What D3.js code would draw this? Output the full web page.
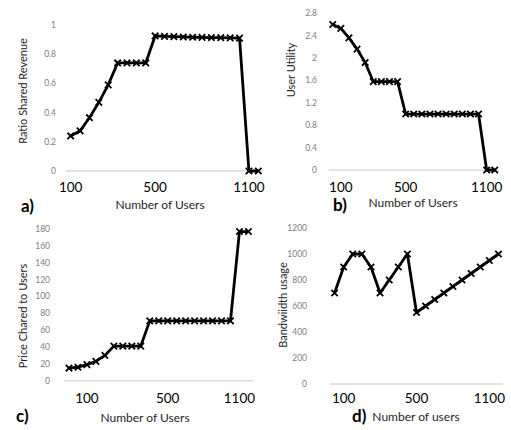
<!DOCTYPE html>
<html><head><meta charset="utf-8">
<script src="https://cdn.jsdelivr.net/npm/d3@7"></script>
<style>body{margin:0;background:#fff}svg{display:block}</style>
</head><body>
<svg id="c" width="511" height="430"></svg>
<script>
// ---- data ----
const catsABC = d3.range(21).map(i => "c" + i); // 21 user-count categories (a,b,c)
const catsD = d3.range(19).map(i => "d" + i);   // 19 categories (d)
const ratioShared = [0.24,0.275,0.365,0.47,0.59,0.74,0.74,0.74,0.74,0.925,0.922,0.92,0.918,0.916,0.915,0.914,0.913,0.912,0.91,0,0];
const userUtility = [2.6,2.53,2.36,2.16,1.92,1.58,1.58,1.58,1.58,1.0,1.0,1.0,1.0,1.0,1.0,1.0,1.0,1.0,1.0,0,0];
const priceCharged = [15,16,19,23,30,41,41,41,41,71,71,71,71,71,71,71,71,71,71,177,177];
const bandwidth = [700,900,1000,1000,900,700,800,900,1000,550,600,650,700,750,800,850,900,950,1000];
const ticksA = [0,0.2,0.4,0.6,0.8,1];
const ticksB = [0,0.4,0.8,1.2,1.6,2,2.4,2.8];
const ticksC = [0,20,40,60,80,100,120,140,160,180];
const ticksD = [0,200,400,600,800,1000,1200];
const xLabelsA = [{i:0,t:"100"},{i:9,t:"500"},{i:19,t:"1100"}];
const xLabelsB = [{i:1,t:"100"},{i:9,t:"500"},{i:19,t:"1100"}];
const xLabelsC = [{i:2,t:"100"},{i:11,t:"500"},{i:19,t:"1100"}];
const xLabelsD = [{i:1,t:"100"},{i:9,t:"500"},{i:17,t:"1100"}];

const svg = d3.select("#c");
const FONT = "Lato, 'Open Sans', sans-serif";

function panel(p){
  const g = svg.append("g");
  const x = d3.scaleBand().domain(p.cats).range(p.xr);
  const y = d3.scaleLinear().domain([0, p.ticks[p.ticks.length-1]]).range(p.yr);
  const cx = c => x(c) + x.bandwidth()/2;
  // baseline
  g.append("line").attr("x1", p.xr[0]).attr("x2", p.xr[1]).attr("y1", y(0)).attr("y2", y(0))
    .attr("stroke", "#d9d9d9").attr("stroke-width", 1.5);
  // y ticks
  g.selectAll(".yt").data(p.ticks).join("text")
    .attr("x", p.ytx).attr("y", d => y(d)).attr("dy", "0.35em")
    .attr("text-anchor", "end").attr("font-family", FONT).attr("font-size", 8.5)
    .attr("fill", "#808080").text(d => String(+d.toFixed(2)));
  // x labels
  g.selectAll(".xt").data(p.xl).join("text")
    .attr("x", d => cx(p.cats[d.i])).attr("y", p.xly).attr("dy", "0.35em")
    .attr("text-anchor", "middle").attr("font-family", FONT).attr("font-size", 13.5)
    .attr("fill", "#000").text(d => d.t);
  // y title
  g.append("text").attr("transform", `translate(${p.ytt[0]},${p.ytt[1]}) rotate(-90)`)
    .attr("dy", "0.35em").attr("text-anchor", "middle").attr("font-family", FONT)
    .attr("font-size", 11).attr("fill", "#262626").text(p.ytitle);
  // x title
  g.append("text").attr("x", p.xtt[0]).attr("y", p.xtt[1]).attr("dy", "0.35em")
    .attr("text-anchor", "middle").attr("font-family", FONT).attr("font-size", 12)
    .attr("fill", "#262626").text(p.xtitle);
  // letter
  g.append("text").attr("x", p.let[0]).attr("y", p.let[1]).attr("dy", "0.35em")
    .attr("font-family", FONT).attr("font-weight", "bold").attr("font-size", 17)
    .attr("fill", "#000").text(p.letter);
  // line
  const line = d3.line().x((d,i) => cx(p.cats[i])).y(d => y(d));
  g.append("path").datum(p.vals).attr("d", line).attr("fill", "none")
    .attr("stroke", "#000").attr("stroke-width", 2.8).attr("stroke-linejoin", "round");
  // markers
  const s = 3.2;
  g.selectAll(".m").data(p.vals).join("path")
    .attr("d", (d,i) => {
      const X = cx(p.cats[i]), Y = y(d);
      return `M${X-s},${Y-s}L${X+s},${Y+s}M${X-s},${Y+s}L${X+s},${Y-s}`;
    })
    .attr("stroke", "#000").attr("stroke-width", 1.8).attr("fill", "none");
}

panel({cats: catsABC, vals: ratioShared, ticks: ticksA, xr: [66, 263], yr: [171, 25], ytx: 56,
  xl: xLabelsA, xly: 187, ytitle: "Ratio Shared Revenue", ytt: [23, 91],
  xtitle: "Number of Users", xtt: [160, 205], letter: "a)", let: [21, 206]});
panel({cats: catsABC, vals: userUtility, ticks: ticksB, xr: [328.7, 498.8], yr: [170, 13.3], ytx: 317,
  xl: xLabelsB, xly: 187, ytitle: "User Utility", ytt: [291, 70],
  xtitle: "Number of Users", xtt: [413, 203], letter: "b)", let: [333, 205]});
panel({cats: catsABC, vals: priceCharged, ticks: ticksC, xr: [64.5, 252.9], yr: [380.7, 229], ytx: 50,
  xl: xLabelsC, xly: 398, ytitle: "Price Chared to Users", ytt: [23, 316],
  xtitle: "Number of Users", xtt: [145, 418], letter: "c)", let: [16, 416]});
panel({cats: catsD, vals: bandwidth, ticks: ticksD, xr: [330, 503], yr: [384, 228], ytx: 307,
  xl: xLabelsD, xly: 398, ytitle: "Bandwiidth usage", ytt: [283, 305],
  xtitle: "Number of users", xtt: [416, 417], letter: "d)", let: [352, 416]});
</script>
</body></html>
